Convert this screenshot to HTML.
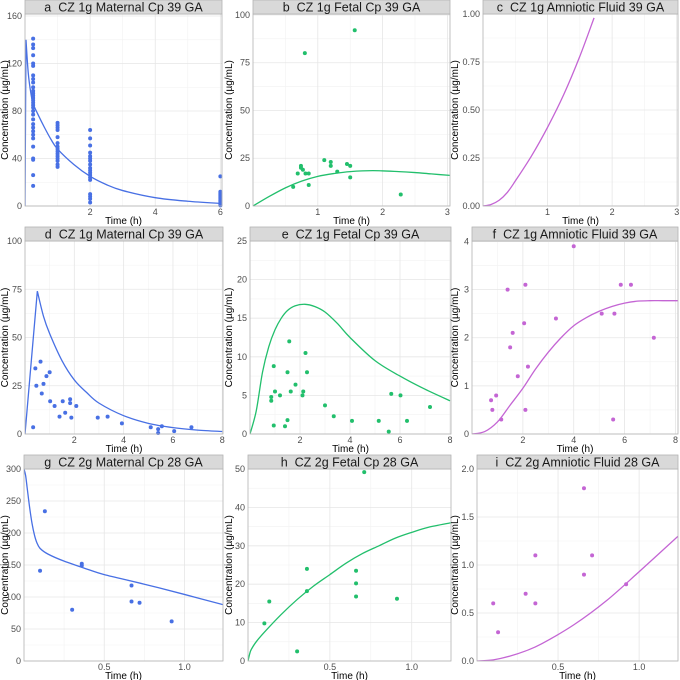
<!DOCTYPE html>
<html><head><meta charset="utf-8">
<style>
html,body{margin:0;padding:0;background:#fff;}
svg{display:block;font-family:"Liberation Sans",sans-serif;}
.tick{font-size:9px;fill:#4d4d4d;}
.title{font-size:10px;fill:#000;}
.strip{font-size:12.5px;fill:#1a1a1a;white-space:pre;}
</style></head>
<body>
<svg id="chart" width="680" height="680" viewBox="0 0 680 680" xmlns="http://www.w3.org/2000/svg"></svg>
<script>
// ---- data ----
const aPtsX=[0.25,0.25,0.25,0.25,0.25,0.25,0.25,0.25,0.25,0.25,0.25,0.25,0.25,0.25,0.25,0.25,0.25,0.25,0.25,0.25,0.25,0.25,0.25,0.25,0.25,0.25,0.25,0.25,0.25,0.25,0.25,
1,1,1,1,1,1,1,1,1,1,1,1,1,1,1,
2,2,2,2,2,2,2,2,2,2,2,2,2,2,2,2,2,2,
6,6,6,6,6,6,6,6,6,6,6,6,6,6];
const aPtsY=[141,136,133,127,120,118,110,107,104,100,97,95,93,91,89,87,85,83,80,77,73,69,66,63,60,57,50,40,39,26,17,
70,68,66,64,58,53,50,48,46,44,42,40,38,35,33,
64,57,51,45,42,40,38,35,32,30,28,26,24,22,10,8,6,3,
25,12,11,10,9,8,7,6,5,4,3,2,1,0.5];
const aCurveX=[0,0.03,0.1,0.18,0.25,0.4,0.6,0.8,1,1.5,2,2.5,3,4,5,6,6.05];
const aCurveY=[0,140,112,95,86,77,66,56,48,35,25,18,13,7,4,2.2,2.1];

const bPtsX=[0.62,0.69,0.74,0.74,0.77,0.80,0.81,0.86,0.86,1.1,1.2,1.2,1.3,1.45,1.5,1.5,1.57,2.28];
const bPtsY=[10,17,21,20,19,80,17,17,11,24,23,21,18,22,21,15,92,6];
const bCurveX=[0,0.25,0.5,0.75,1,1.25,1.5,1.85,2.25,2.5,2.75,3.05];
const bCurveY=[0,5,9.5,13,15.5,17,18,18.5,18,17.5,16.8,16];

const cPtsX=[];
const cPtsY=[];
const cCurveX=[0,0.125,0.25,0.375,0.5,0.75,1,1.25,1.5,1.72];
const cCurveY=[0,0.008,0.03,0.07,0.13,0.26,0.41,0.58,0.78,0.98];

const dPtsX=[0.33,0.42,0.46,0.63,0.68,0.75,0.87,1.0,1.02,1.2,1.4,1.53,1.63,1.83,1.83,1.88,2.08,2.95,3.35,3.93,5.1,5.4,5.4,5.55,6.05,6.75];
const dPtsY=[3.5,34,25,37.5,21,26,30,32,17,14.5,9,17,11,18,16,8.5,14.5,8.5,9,5.5,3.5,2.5,0.5,4,1.5,3.5];
const dCurveX=[0,0.5,0.75,1,1.5,2,2.5,3,4,5,6,7,8];
const dCurveY=[0,74,61,52,38,28,21.5,16,9.5,5.5,3.3,2,1.3];

const ePtsX=[0.85,0.85,0.95,0.95,1.0,1.2,1.4,1.5,1.5,1.57,1.63,1.82,2.1,2.13,2.22,2.28,3.0,3.35,4.08,5.15,5.55,5.65,6.02,6.28,7.2];
const ePtsY=[4.8,4.3,8.8,1.1,5.5,5,1.0,8,1.8,12,5.5,6.4,5,5.5,10.5,8,3.7,2.3,1.7,1.7,0.3,5.2,5,1.7,3.5];
const eCurveX=[0,0.25,0.5,0.75,1,1.25,1.5,1.8,2.2,2.6,3,3.5,4,5,6,7,8];
const eCurveY=[0,3,8,11.3,13.5,15,16,16.6,16.8,16.5,15.8,14.3,12.5,9.5,7.5,5.8,4.3];

const fPtsX=[0.75,0.8,0.95,1.15,1.4,1.5,1.6,1.8,2.05,2.1,2.1,2.2,3.3,4.0,5.1,5.55,5.6,5.85,6.25,7.15];
const fPtsY=[0.7,0.5,0.8,0.3,3.0,1.8,2.1,1.2,2.3,3.1,0.5,1.4,2.4,3.9,2.5,0.3,2.5,3.1,3.1,2.0];
const fCurveX=[0,0.5,1,1.5,2,2.5,3,3.5,4,4.5,5,5.5,6,6.5,7,7.5,8.1];
const fCurveY=[0,0.05,0.25,0.6,0.95,1.35,1.7,2.0,2.25,2.42,2.55,2.65,2.72,2.76,2.77,2.77,2.77];

const gPtsX=[0.1,0.13,0.3,0.36,0.36,0.67,0.67,0.72,0.92];
const gPtsY=[141,234,80,152,149,118,93,91,62];
const gCurveX=[0,0.01,0.02,0.035,0.05,0.065,0.08,0.1,0.15,0.25,0.4,0.5,0.75,1.0,1.24];
const gCurveY=[300,290,270,240,215,197,185,176,167,156,143,135,120,104,88];

const hPtsX=[0.1,0.13,0.3,0.36,0.36,0.66,0.66,0.66,0.71,0.91];
const hPtsY=[9.8,15.5,2.5,24,18.2,23.5,20.2,16.8,49.2,16.2];
const hCurveX=[0,0.01,0.02,0.05,0.1,0.2,0.3,0.4,0.5,0.6,0.7,0.8,0.9,1.0,1.1,1.24];
const hCurveY=[0,1.8,3,5,7.5,12,16,19.5,22.5,25.5,28,30,32,33.5,34.8,36];

const iPtsX=[0.1,0.13,0.3,0.36,0.36,0.66,0.66,0.71,0.92];
const iPtsY=[0.6,0.3,0.7,1.1,0.6,1.8,0.9,1.1,0.8];
const iCurveX=[0,0.1,0.2,0.3,0.4,0.6,0.8,1.0,1.24];
const iCurveY=[0,0.012,0.05,0.105,0.18,0.38,0.63,0.93,1.3];

const aYTicks=[0,40,80,120,160], aXTicks=[2,4,6];
const bYTicks=[0,25,50,75,100], bXTicks=[1,2,3];
const cYTicks=[0,0.25,0.5,0.75,1], cXTicks=[1,2,3];
const dYTicks=[0,25,50,75,100], dXTicks=[2,4,6,8];
const eYTicks=[0,5,10,15,20,25], eXTicks=[2,4,6,8];
const fYTicks=[0,1,2,3,4], fXTicks=[2,4,6,8];
const gYTicks=[0,50,100,150,200,250,300], gXTicks=[0.5,1.0];
const hYTicks=[0,10,20,30,40,50], hXTicks=[0.5,1.0];
const iYTicks=[0,0.5,1,1.5,2], iXTicks=[0.5,1.0];

const BLUE="#4870e4", GREEN="#22bf6c", PINK="#c465d4";
const panels=[
 {id:"a",title:"a\u00a0\u00a0CZ 1g Maternal Cp 39 GA",px:aPtsX,py:aPtsY,cx:aCurveX,cy:aCurveY,yt:aYTicks,xt:aXTicks,dec:0,xdec:0,col:BLUE,L:25,R:222,T:14,B:206,xmax:6.05,ymax:161.7,yt0:8,sharp:[1]},
 {id:"b",title:"b\u00a0\u00a0CZ 1g Fetal Cp 39 GA",px:bPtsX,py:bPtsY,cx:bCurveX,cy:bCurveY,yt:bYTicks,xt:bXTicks,dec:0,xdec:0,col:GREEN,L:253,R:450,T:14,B:206,xmax:3.04,ymax:100.5,yt0:232,sharp:[]},
 {id:"c",title:"c\u00a0\u00a0CZ 1g Amniotic Fluid 39 GA",px:cPtsX,py:cPtsY,cx:cCurveX,cy:cCurveY,yt:cYTicks,xt:cXTicks,dec:2,xdec:0,col:PINK,L:483,R:678,T:14,B:206,xmax:3.02,ymax:1.0,yt0:458,sharp:[]},
 {id:"d",title:"d\u00a0\u00a0CZ 1g Maternal Cp 39 GA",px:dPtsX,py:dPtsY,cx:dCurveX,cy:dCurveY,yt:dYTicks,xt:dXTicks,dec:0,xdec:0,col:BLUE,L:25,R:223,T:241,B:434,xmax:8.03,ymax:100,yt0:8,sharp:[1]},
 {id:"e",title:"e\u00a0\u00a0CZ 1g Fetal Cp 39 GA",px:ePtsX,py:ePtsY,cx:eCurveX,cy:eCurveY,yt:eYTicks,xt:eXTicks,dec:0,xdec:0,col:GREEN,L:250,R:451,T:241,B:434,xmax:8.04,ymax:25,yt0:232,sharp:[]},
 {id:"f",title:"f\u00a0\u00a0CZ 1g Amniotic Fluid 39 GA",px:fPtsX,py:fPtsY,cx:fCurveX,cy:fCurveY,yt:fYTicks,xt:fXTicks,dec:0,xdec:0,col:PINK,L:472,R:678,T:241,B:434,xmax:8.1,ymax:4.01,yt0:458,sharp:[]},
 {id:"g",title:"g\u00a0\u00a0CZ 2g Maternal Cp 28 GA",px:gPtsX,py:gPtsY,cx:gCurveX,cy:gCurveY,yt:gYTicks,xt:gXTicks,dec:0,xdec:1,col:BLUE,L:24,R:223,T:469,B:661,xmax:1.24,ymax:300,yt0:8,sharp:[]},
 {id:"h",title:"h\u00a0\u00a0CZ 2g Fetal Cp 28 GA",px:hPtsX,py:hPtsY,cx:hCurveX,cy:hCurveY,yt:hYTicks,xt:hXTicks,dec:0,xdec:1,col:GREEN,L:248,R:451,T:469,B:661,xmax:1.24,ymax:50,yt0:232,sharp:[]},
 {id:"i",title:"i\u00a0\u00a0CZ 2g Amniotic Fluid 28 GA",px:iPtsX,py:iPtsY,cx:iCurveX,cy:iCurveY,yt:iYTicks,xt:iXTicks,dec:1,xdec:1,col:PINK,L:477,R:678,T:469,B:661,xmax:1.24,ymax:2.0,yt0:458,sharp:[]}
];
const NS="http://www.w3.org/2000/svg";
const svg=document.getElementById("chart");
function mk(tag,attrs,parent){const e=document.createElementNS(NS,tag);for(const k in attrs)e.setAttribute(k,attrs[k]);(parent||svg).appendChild(e);return e;}
function smoothPath(P,sharp){
 // Catmull-Rom -> cubic bezier, with sharp corners at given indices
 let d="M"+P[0][0].toFixed(2)+","+P[0][1].toFixed(2);
 for(let i=0;i<P.length-1;i++){
  const p0=(i===0||sharp.includes(i))?P[i]:P[i-1];
  const p1=P[i],p2=P[i+1];
  const p3=(i+2>=P.length||sharp.includes(i+1))?P[i+1]:P[i+2];
  const c1=[p1[0]+(p2[0]-p0[0])/6,p1[1]+(p2[1]-p0[1])/6];
  const c2=[p2[0]-(p3[0]-p1[0])/6,p2[1]-(p3[1]-p1[1])/6];
  d+="C"+c1[0].toFixed(2)+","+c1[1].toFixed(2)+" "+c2[0].toFixed(2)+","+c2[1].toFixed(2)+" "+p2[0].toFixed(2)+","+p2[1].toFixed(2);
 }
 return d;
}
const defs=mk("defs",{});
panels.forEach(p=>{
 const g=mk("g",{});
 
 
 const xs=v=>p.L+(v/p.xmax)*(p.R-p.L);
 const ys=v=>p.B-(v/p.ymax)*(p.B-p.T);
 const cp=mk("clipPath",{id:"clip"+p.id},defs);
 mk("rect",{x:p.L,y:p.T,width:p.R-p.L,height:p.B-p.T},cp);
 const ystep=p.yt[1]-p.yt[0], xstep=p.xt[1]-p.xt[0];
 for(let v=ystep/2; v<p.ymax; v+=ystep){const l=mk("line",{x1:p.L,x2:p.R,y1:ys(v),y2:ys(v),stroke:"#f2f2f2","stroke-width":0.6},g);}
 for(let v=xstep/2; v<p.xmax; v+=xstep){const l=mk("line",{x1:xs(v),x2:xs(v),y1:p.T,y2:p.B,stroke:"#f2f2f2","stroke-width":0.6},g);}
 p.yt.forEach(v=>{
  const l=mk("line",{x1:p.L,x2:p.R,y1:ys(v),y2:ys(v),stroke:"#e6e6e6","stroke-width":0.8},g);
  
  const t=mk("text",{x:p.L-3,y:ys(v)+3,"text-anchor":"end",class:"tick"},g);
  t.textContent=v.toFixed(p.dec);
  
 });
 p.xt.forEach(v=>{
  const l=mk("line",{x1:xs(v),x2:xs(v),y1:p.T,y2:p.B,stroke:"#e6e6e6","stroke-width":0.8},g);
  
  const t=mk("text",{x:xs(v),y:p.B+9,"text-anchor":"middle",class:"tick"},g);
  t.textContent=v.toFixed(p.xdec);
  
 });
 const pts=p.cx.map((x,i)=>[xs(x),ys(p.cy[i])]);
 const path=mk("path",{d:smoothPath(pts,p.sharp),fill:"none",stroke:p.col,"stroke-width":1.3,"clip-path":"url(#clip"+p.id+")"},g);
 
 p.px.forEach((x,i)=>{
  const c=mk("circle",{cx:xs(x),cy:ys(p.py[i]),r:2,fill:p.col},g);
  
 });
 const border=mk("rect",{x:p.L,y:p.T,width:p.R-p.L,height:p.B-p.T,fill:"none",stroke:"#b3b3b3","stroke-width":0.8},g);
 
 const strip=mk("rect",{x:p.L,y:p.T-14,width:p.R-p.L,height:14,fill:"#d9d9d9",stroke:"#b3b3b3","stroke-width":0.8},g);
 
 const st=mk("text",{x:(p.L+p.R)/2,y:p.T-2.5,"text-anchor":"middle",class:"strip"},g);
 st.textContent=p.title;
 
 const xt=mk("text",{x:(p.L+p.R)/2,y:p.B+18,"text-anchor":"middle",class:"title"},g);
 xt.textContent="Time (h)";
 
 const ym=(p.T+p.B)/2;
 const yt=mk("text",{x:p.yt0,y:ym,"text-anchor":"middle",class:"title",transform:"rotate(-90 "+p.yt0+" "+ym+")"},g);
 yt.textContent="Concentration (µg/mL)";
 
});
</script>
</body></html>
